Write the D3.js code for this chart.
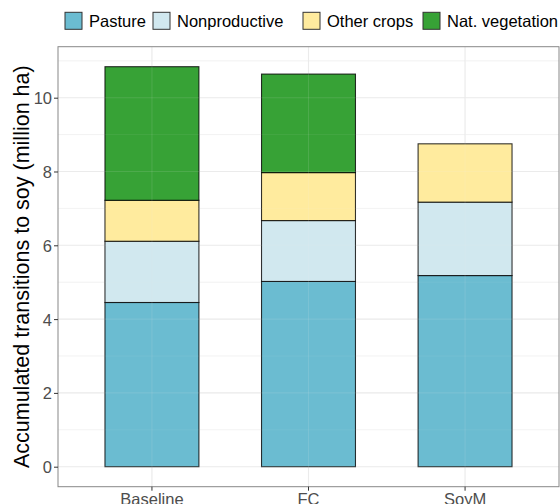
<!DOCTYPE html>
<html>
<head>
<meta charset="utf-8">
<script src="https://cdn.jsdelivr.net/npm/d3@7"></script>
<style>
  body { margin: 0; background: #fff; }
  svg { display: block; font-family: "Liberation Sans", Arial, sans-serif; }
</style>
</head>
<body>
<svg id="chart" width="560" height="504"></svg>
<script>
const scenarios = ['Baseline', 'FC', 'SoyM'];
const landUses = ['Pasture', 'Nonproductive', 'Other crops', 'Nat. vegetation'];
const colors = ['#6bbcd1', '#d1e8ef', '#ffeb9e', '#37a236'];

// million ha, per scenario
const pasture = [4.45, 5.02, 5.18];
const nonproductive = [1.66, 1.65, 1.99];
const otherCrops = [1.11, 1.30, 1.58];
const natVegetation = [3.62, 2.67, 0];

const yTicks = [0, 2, 4, 6, 8, 10];
const yMinor = [1, 3, 5, 7, 9, 11];

const series = [pasture, nonproductive, otherCrops, natVegetation];
const rows = scenarios.map((s, i) => {
    const row = { scenario: s };
    landUses.forEach((k, j) => { row[k] = series[j][i]; });
    return row;
});
const stacked = d3.stack().keys(landUses)(rows);

const margin = { left: 58, right: 1, top: 46.7, bottom: 17.3 };
const W = 560, H = 504;
const svg = d3.select('#chart');

const maxTotal = d3.max(stacked[stacked.length - 1], d => d[1]);
const pad = maxTotal * 0.05;

const x = d3.scaleBand()
    .domain(scenarios)
    .range([margin.left, W - margin.right])
    .paddingInner(0.4)
    .paddingOuter(0.3);

const y = d3.scaleLinear()
    .domain([-pad, maxTotal + pad])
    .range([H - margin.bottom, margin.top]);

const color = d3.scaleOrdinal().domain(landUses).range(colors);

const x0 = margin.left, x1 = W - margin.right;
const yTop = margin.top, yBot = H - margin.bottom;

// grid below
const grid = svg.append('g');
const drawGrid = (g, op) => {
    g.selectAll('.minor').data(yMinor.filter(v => y(v) > yTop)).join('line')
        .attr('x1', x0).attr('x2', x1)
        .attr('y1', d => y(d)).attr('y2', d => y(d))
        .attr('stroke', '#ebebeb').attr('stroke-width', 0.6).attr('stroke-opacity', op);
    g.selectAll('.major').data(yTicks).join('line')
        .attr('x1', x0).attr('x2', x1)
        .attr('y1', d => y(d)).attr('y2', d => y(d))
        .attr('stroke', '#ebebeb').attr('stroke-width', 1.1).attr('stroke-opacity', op);
    g.selectAll('.vmajor').data(scenarios).join('line')
        .attr('x1', d => x(d) + x.bandwidth() / 2).attr('x2', d => x(d) + x.bandwidth() / 2)
        .attr('y1', yTop).attr('y2', yBot)
        .attr('stroke', '#ebebeb').attr('stroke-width', 1.1).attr('stroke-opacity', op);
};
drawGrid(grid.append('g'), 1);

// bars
svg.append('g')
    .selectAll('g')
    .data(stacked)
    .join('g')
    .attr('fill', d => color(d.key))
    .selectAll('rect')
    .data(d => d.filter(s => s[1] - s[0] > 0))
    .join('rect')
    .attr('x', d => x(d.data.scenario))
    .attr('width', x.bandwidth())
    .attr('y', d => y(d[1]))
    .attr('height', d => y(d[0]) - y(d[1]))
    .attr('stroke', '#000')
    .attr('stroke-opacity', 0.8)
    .attr('stroke-width', 1.1);

// faint grid showing through bars
drawGrid(svg.append('g').attr('pointer-events', 'none'), 0.12);

// panel border
svg.append('rect')
    .attr('x', x0).attr('y', yTop)
    .attr('width', x1 - x0).attr('height', yBot - yTop)
    .attr('fill', 'none').attr('stroke', '#888').attr('stroke-width', 1);

// axes
const yAxis = svg.append('g')
    .attr('transform', `translate(${x0},0)`)
    .call(d3.axisLeft(y).tickValues(yTicks).tickSize(4).tickPadding(2).tickFormat(d3.format('d')));
const xAxis = svg.append('g')
    .attr('transform', `translate(0,${yBot})`)
    .call(d3.axisBottom(x).tickSize(4).tickPadding(3));

[yAxis, xAxis].forEach(a => {
    a.select('.domain').remove();
    a.selectAll('.tick line').attr('stroke', '#333').attr('stroke-width', 1);
    a.selectAll('.tick text')
        .attr('fill', '#4d4d4d')
        .style('font-size', '16.5px')
        .style('font-family', '"Liberation Sans", Arial, sans-serif');
});
yAxis.selectAll('.tick text').attr('dy', '0.36em');

// y title
svg.append('text')
    .attr('transform', `translate(29,${(yTop + yBot) / 2}) rotate(-90)`)
    .attr('text-anchor', 'middle')
    .style('font-size', '21.5px')
    .attr('fill', '#000')
    .text('Accumulated transitions to soy (million ha)');

// legend
const legendX = [65, 153, 303, 423];
const legend = svg.append('g')
    .selectAll('g')
    .data(landUses)
    .join('g')
    .attr('transform', (d, i) => `translate(${legendX[i]},12.3)`);
legend.append('rect')
    .attr('width', 17).attr('height', 17)
    .attr('fill', d => color(d))
    .attr('stroke', '#333').attr('stroke-width', 1);
legend.append('text')
    .attr('x', 24).attr('y', 14.4)
    .style('font-size', '16.5px')
    .attr('fill', '#000')
    .text(d => d);
</script>
</body>
</html>
